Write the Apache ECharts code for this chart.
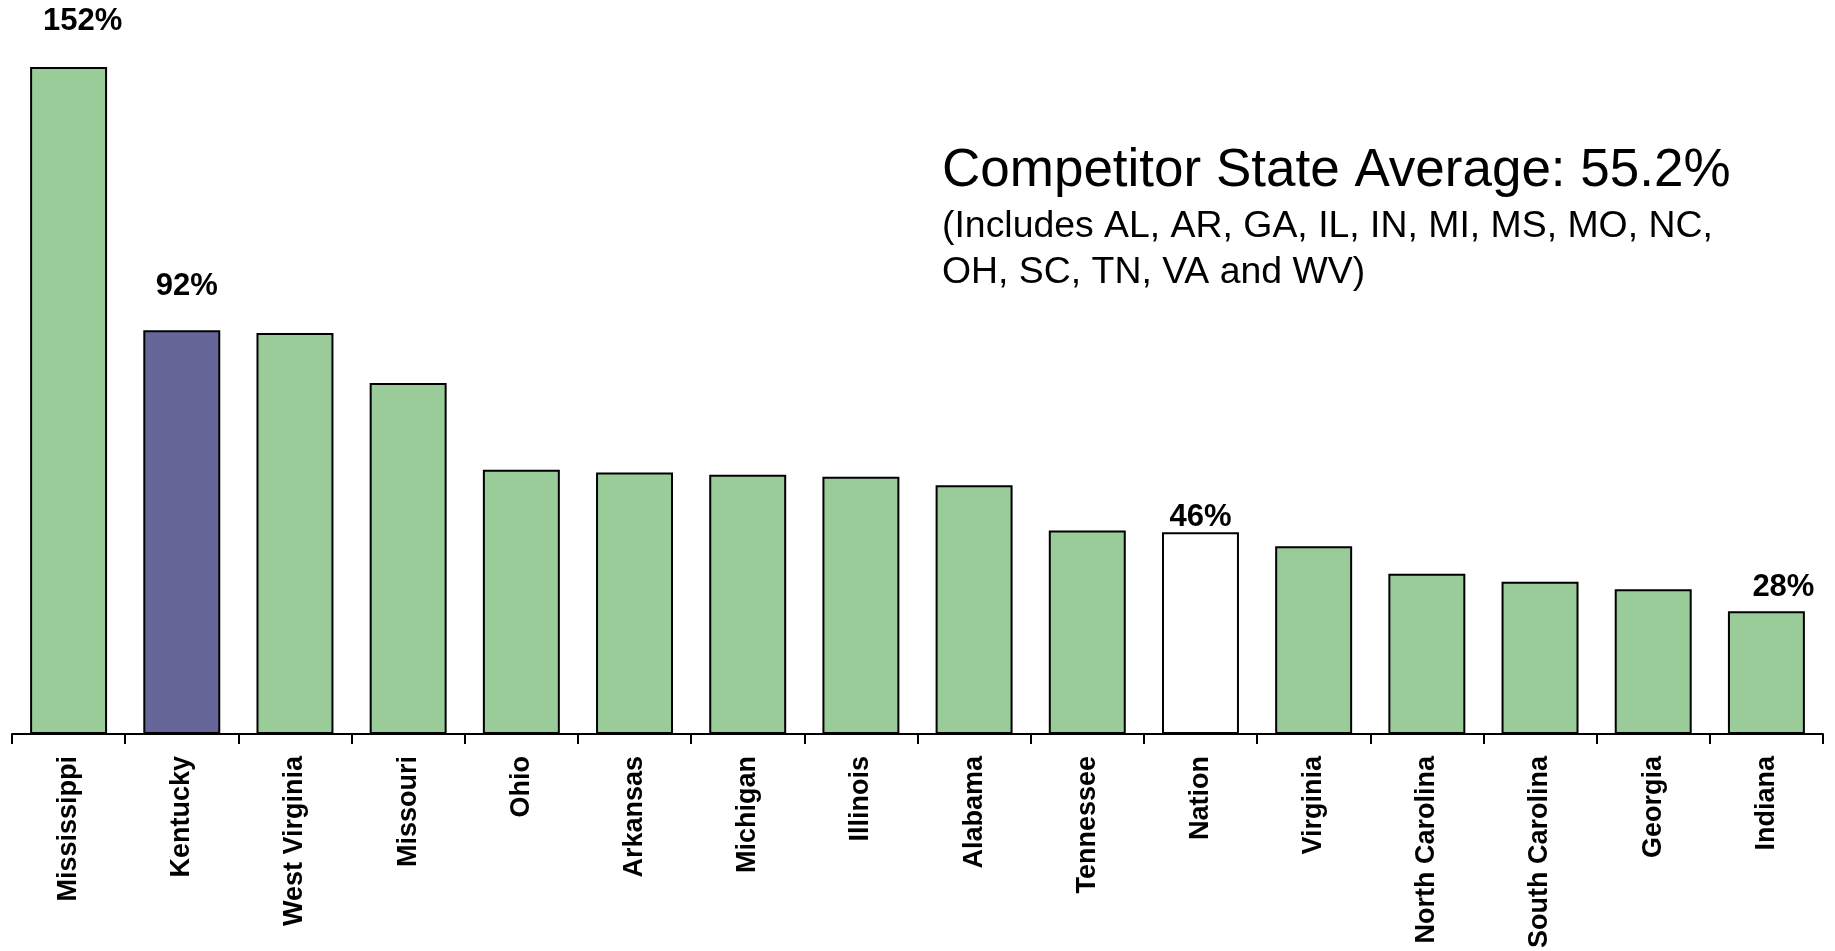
<!DOCTYPE html>
<html>
<head>
<meta charset="utf-8">
<script src="https://cdn.jsdelivr.net/npm/echarts@6/dist/echarts.min.js"></script>
<style>
  html, body { margin: 0; padding: 0; background: #fff; }
  #chart { width: 1835px; height: 951px; }
</style>
</head>
<body>
<div id="chart"></div>
<script>
// states ranked by value, Nation included as a reference bar
const categories = ['Mississippi', 'Kentucky', 'West Virginia', 'Missouri', 'Ohio', 'Arkansas',
  'Michigan', 'Illinois', 'Alabama', 'Tennessee', 'Nation', 'Virginia', 'North Carolina',
  'South Carolina', 'Georgia', 'Indiana'];
const values = [152, 92, 91.4, 80.0, 60.2, 59.6, 59.1, 58.6, 56.7, 46.4, 46, 42.8, 36.5, 34.7, 33, 28];
// only a few bars carry a value label
const labelled = ['Mississippi', 'Kentucky', 'Nation', 'Indiana'];

const noteTitle = 'Competitor State Average: 55.2%';
const noteLines = ['(Includes AL, AR, GA, IL, IN, MI, MS, MO, NC,', 'OH, SC, TN, VA and WV)'];

const GREEN = '#99cc99';
const labelPos = {
  'Mississippi': { distance: 32, offset: [14, 2] },
  'Kentucky': { distance: 30, offset: [5, 2] },
  'Nation': { distance: 3, offset: [0, 4] },
  'Indiana': { distance: 13, offset: [17, 5] }
};

const chart = echarts.init(document.getElementById('chart'));

const seriesData = categories.map((name, i) => {
  let fill = GREEN;
  if (name === 'Kentucky') fill = '#666699';
  if (name === 'Nation') fill = '#ffffff';
  const item = {
    value: values[i],
    itemStyle: { color: fill, borderColor: '#000', borderWidth: 2 }
  };
  if (labelled.indexOf(name) >= 0) {
    item.label = {
      show: true,
      position: 'top',
      distance: labelPos[name].distance,
      offset: labelPos[name].offset,
      formatter: p => Math.round(p.value) + '%'
    };
  }
  return item;
});

const option = {
  animation: false,
  grid: { left: 12, right: 12, top: 67, bottom: 214 },
  xAxis: {
    type: 'category',
    data: categories,
    boundaryGap: true,
    axisLine: { lineStyle: { color: '#000', width: 2 } },
    axisTick: { show: true, length: 10, alignWithLabel: false, lineStyle: { color: '#000', width: 2 } },
    axisLabel: {
      rotate: 90,
      interval: 0,
      margin: 22,
      color: '#000',
      fontFamily: 'Liberation Sans, Arial, sans-serif',
      fontWeight: 'bold',
      fontSize: 27
    }
  },
  yAxis: {
    type: 'value',
    min: 0,
    max: 152,
    show: false,
    splitLine: { show: false }
  },
  series: [{
    type: 'bar',
    barCategoryGap: '32%',
    data: seriesData,
    label: {
      show: false,
      color: '#000',
      fontFamily: 'Liberation Sans, Arial, sans-serif',
      fontWeight: 'bold',
      fontSize: 31
    }
  }],
  graphic: [
    {
      type: 'text', left: 942, top: 145,
      style: { text: noteTitle, fill: '#000', font: '53px "Liberation Sans", Arial, sans-serif' }
    },
    {
      type: 'text', left: 942, top: 204,
      style: { text: noteLines.join('\n'), fill: '#000', lineHeight: 45.5,
        font: '37.4px "Liberation Sans", Arial, sans-serif' }
    }
  ]
};

chart.setOption(option);
</script>
</body>
</html>
